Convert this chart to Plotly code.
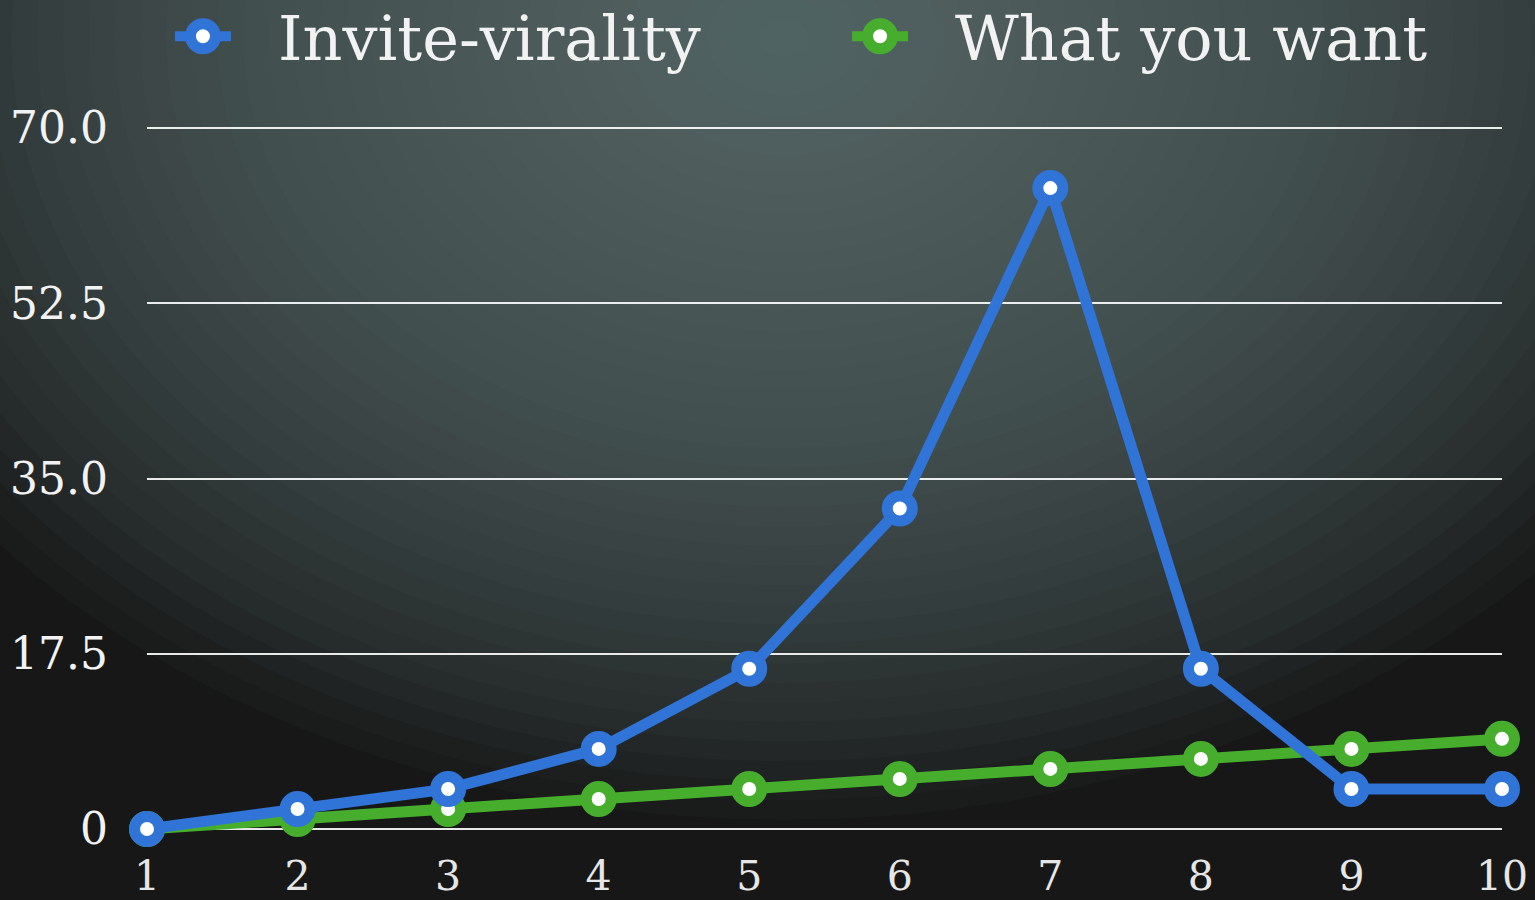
import plotly.graph_objects as go

# ---- data ----
periods = [1, 2, 3, 4, 5, 6, 7, 8, 9, 10]
invite_virality = [0, 2, 4, 8, 16, 32, 64, 16, 4, 4]
what_you_want = [0, 1, 2, 3, 4, 5, 6, 7, 8, 9]
series_names = ["Invite-virality", "What you want"]
y_tick_vals = [0, 17.5, 35, 52.5, 70]
y_tick_text = ["0", "17.5", "35.0", "52.5", "70.0"]

BLUE = "#2f74d6"
GREEN = "#47ae2d"
FONT = "DejaVu Serif"
TXT = "#f2f2f2"

fig = go.Figure()

for name, vals, col in [(series_names[1], what_you_want, GREEN),
                        (series_names[0], invite_virality, BLUE)]:
    fig.add_trace(go.Scatter(
        x=periods, y=vals, name=name, mode="lines+markers",
        line=dict(color=col, width=11),
        marker=dict(size=25, color="white", line=dict(color=col, width=11)),
        cliponaxis=False, showlegend=False,
    ))

shapes = []
# background radial glow (decoration)
N = 40
for i in range(N):
    f = 1 - i / N
    shapes.append(dict(
        type="circle", xref="paper", yref="paper", layer="below",
        x0=0.47 - 0.76 * f, x1=0.47 + 0.76 * f,
        y0=1.12 - 1.10 * f, y1=1.12 + 1.10 * f,
        fillcolor="rgba(104,112,114,0.05)", line=dict(width=0),
    ))

# manual legend
annotations = []
legend_pos = [(0.0413, 0.0982), (0.541, 0.598)]
legend_cols = [BLUE, GREEN]
ly_mark = 1.122
ly_text = 1.119
for (mx, tx), col, name in zip(legend_pos, legend_cols, series_names):
    shapes.append(dict(type="line", xref="paper", yref="paper",
                       xsizemode="pixel", ysizemode="pixel",
                       xanchor=mx, yanchor=ly_mark, x0=-28, x1=28, y0=0, y1=0,
                       line=dict(color=col, width=10), layer="above"))
    shapes.append(dict(type="circle", xref="paper", yref="paper",
                       xsizemode="pixel", ysizemode="pixel",
                       xanchor=mx, yanchor=ly_mark, x0=-12.5, x1=12.5, y0=-12.5, y1=12.5,
                       fillcolor="white", line=dict(color=col, width=11),
                       layer="above"))
    annotations.append(dict(xref="paper", yref="paper", x=tx - 0.003, y=ly_text,
                            xanchor="left", yanchor="middle", showarrow=False,
                            text=name, font=dict(family=FONT, size=62, color=TXT)))

fig.update_layout(
    width=1535, height=900,
    margin=dict(l=147, r=33, t=123, b=66),
    paper_bgcolor="#171717", plot_bgcolor="rgba(0,0,0,0)",
    shapes=shapes, annotations=annotations,
    showlegend=False,
    xaxis=dict(range=[1, 10], tickvals=periods, showgrid=False, zeroline=False,
               showline=False, ticks="", ticklabelstandoff=14, automargin=False,
               tickfont=dict(family=FONT, size=41, color="#e6e6e6")),
    yaxis=dict(range=[-0.5, 70.5], tickvals=y_tick_vals, ticktext=y_tick_text,
               showgrid=True, gridcolor="rgba(255,255,255,0.9)", gridwidth=2,
               zeroline=False, showline=False, ticks="", ticklabelstandoff=38,
               automargin=False,
               tickfont=dict(family=FONT, size=44, color=TXT)),
)

fig.write_html("out.html", config={"displayModeBar": False},
               post_script="document.body.style.margin='0';")
